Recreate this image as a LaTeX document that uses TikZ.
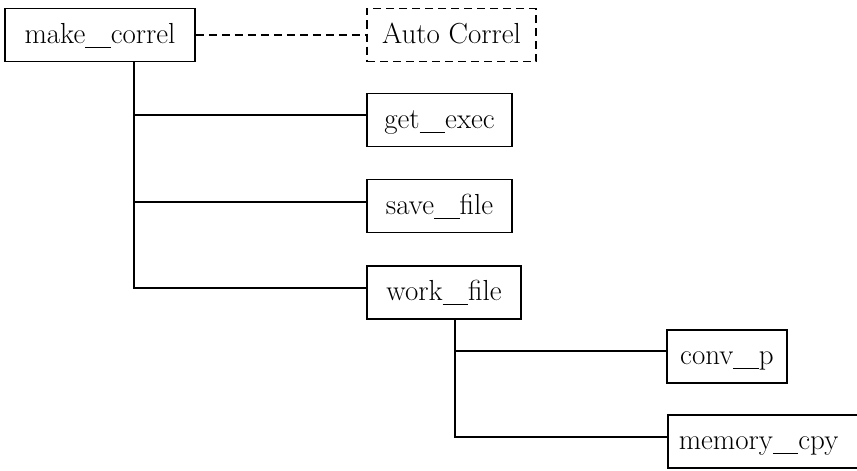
\documentclass[tikz,border=0pt]{standalone}
% long underscore used inside the routine names
\newcommand\uu{\rule[-0.17em]{0.88em}{0.045em}}
\begin{document}
\begin{tikzpicture}[x=1pt,y=-1pt,
  box/.style={draw, line width=1.5pt, minimum height=53pt, inner sep=0pt,
    font=\fontsize{29}{33}\selectfont, text height=22pt, text depth=6pt},
  optbox/.style={box, dash pattern=on 8pt off 5pt},
  link/.style={line width=1.5pt},
  optlink/.style={link, dash pattern=on 8pt off 5pt}]
\useasboundingbox (0,0) rectangle (857,471);
\fill[white] (0,0) rectangle (857,471);

% routines
\node[box, minimum width=190pt] (mk) at (100,35) {make\uu correl};
\node[optbox, minimum width=169pt] (ac) at (451.5,35) {Auto Correl};
\node[box, minimum width=145pt] (ge) at (439.5,120) {get\uu exec};
\node[box, minimum width=145pt] (sf) at (439.5,206) {save\uu file};
\node[box, minimum width=154pt] (wf) at (444,292.5) {work\uu file};
\node[box, minimum width=120pt] (cp) at (727,356.5) {conv\uu p};
\node[box, anchor=west, text width=183pt, align=left, inner xsep=11pt] (mc) at (667,441.5) {memory\uu cpy};

% call tree of make_correl
\coordinate (ta) at (134,115);
\coordinate (tb) at (134,202);
\coordinate (tc) at (134,288);
\draw[optlink] (mk.east) -- (ac.west);
\draw[link] (mk.south -| tc) -- (tc) -- (tc -| wf.west);
\draw[link] (ta) -- (ta -| ge.west);
\draw[link] (tb) -- (tb -| sf.west);

% call tree of work_file
\coordinate (ua) at (455,351);
\coordinate (ub) at (455,437);
\draw[link] (wf.south -| ub) -- (ub) -- (ub -| mc.west);
\draw[link] (ua) -- (ua -| cp.west);
\end{tikzpicture}
\end{document}
